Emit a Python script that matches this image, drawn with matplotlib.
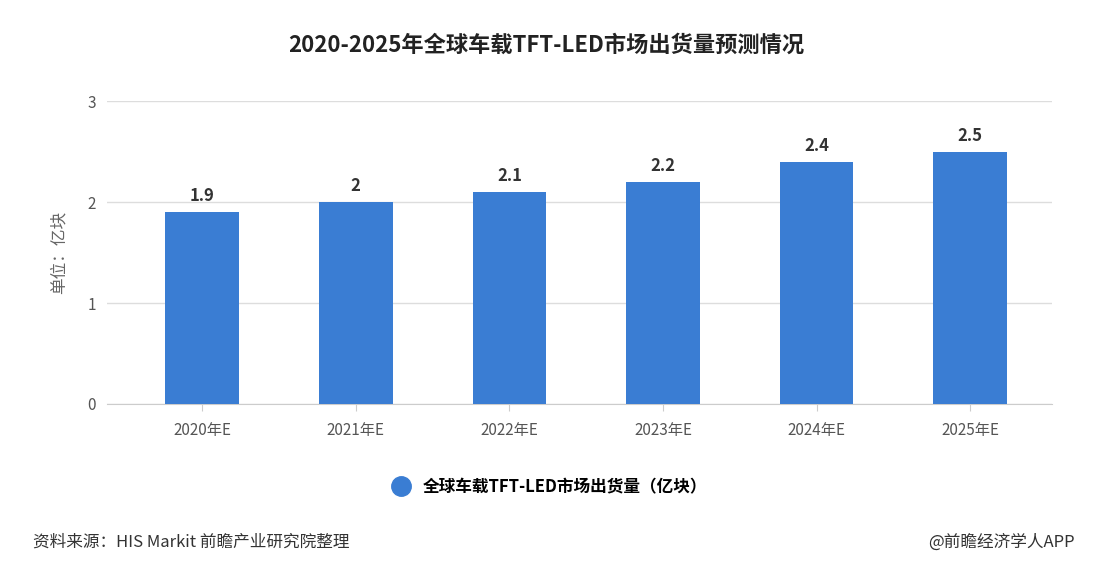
import matplotlib.pyplot as plt
from matplotlib.lines import Line2D

plt.rcParams['font.family'] = ['Noto Sans CJK SC', 'DejaVu Sans']

years = ["2020年E", "2021年E", "2022年E", "2023年E", "2024年E", "2025年E"]
shipments = [1.9, 2.0, 2.1, 2.2, 2.4, 2.5]
labels = ["1.9", "2", "2.1", "2.2", "2.4", "2.5"]

bar_color = "#3a7dd3"

fig = plt.figure(figsize=(11.14, 5.65), dpi=100)
ax = fig.add_axes([0.096, 0.285, 0.848, 0.536])

x = range(len(years))
ax.bar(x, shipments, width=0.48, color=bar_color, zorder=3)
for i, (v, t) in enumerate(zip(shipments, labels)):
    ax.text(i, v + 0.07, t, ha="center", va="bottom", fontsize=12,
            fontweight="bold", color="#333333")

ax.set_xlim(-0.62, 5.53)
ax.set_ylim(0, 3)
ax.set_yticks([0, 1, 2, 3])
ax.set_xticks(list(x))
ax.set_xticklabels(years)
ax.tick_params(axis="both", labelsize=11, colors="#555555", length=0, pad=8)
ax.tick_params(axis="x", length=5, color="#cccccc")
ax.grid(axis="y", color="#dddddd", linewidth=1, zorder=0)
for s in ["top", "right", "left"]:
    ax.spines[s].set_visible(False)
ax.spines["bottom"].set_color("#cccccc")
ax.set_ylabel("单位：亿块", fontsize=12, color="#666666", labelpad=14)

fig.text(0.49, 0.92, "2020-2025年全球车载TFT-LED市场出货量预测情况",
         ha="center", va="center", fontsize=16, fontweight="bold", color="#222222")

handle = Line2D([], [], marker="o", linestyle="none", markersize=14,
                markerfacecolor=bar_color, markeredgecolor=bar_color)
fig.legend([handle], ["全球车载TFT-LED市场出货量（亿块）"], loc="center",
           bbox_to_anchor=(0.49, 0.138), frameon=False, fontsize=12,
           handletextpad=0.3, prop={"weight": "bold", "size": 12})

fig.text(0.03, 0.04, "资料来源：HIS Markit 前瞻产业研究院整理", fontsize=12,
         color="#333333", va="center")
fig.text(0.965, 0.04, "@前瞻经济学人APP", fontsize=12, color="#333333",
         va="center", ha="right")

fig.savefig("out.png", dpi=100)
